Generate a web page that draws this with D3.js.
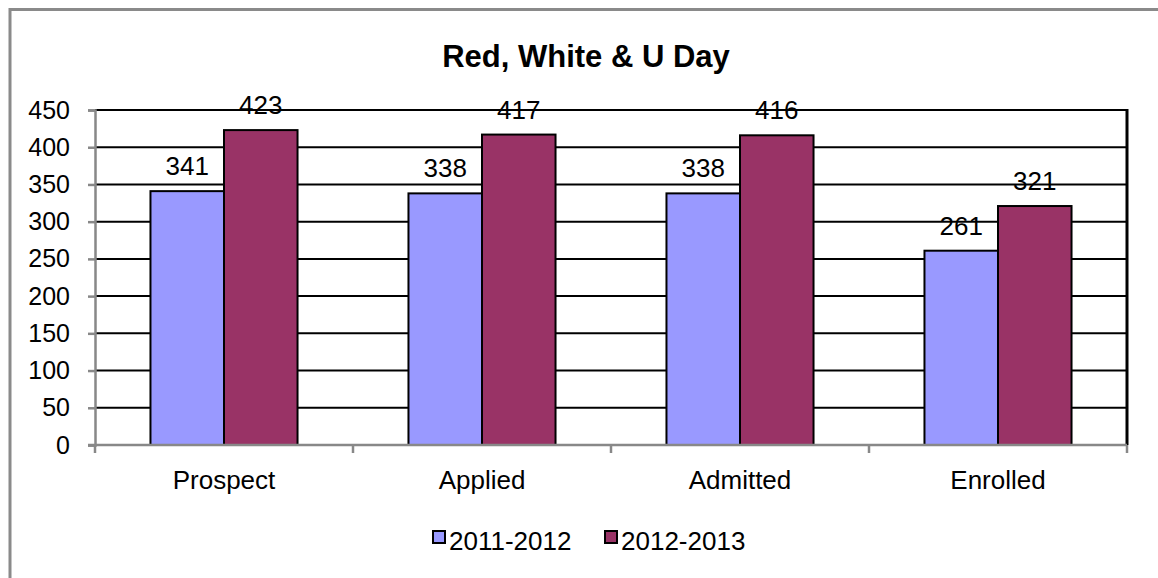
<!DOCTYPE html>
<html><head><meta charset="utf-8">
<script src="https://cdn.jsdelivr.net/npm/d3@7"></script>
<style>body{margin:0;background:#fff}svg{display:block;font-family:"Liberation Sans",Arial,sans-serif}</style>
</head><body>
<svg id="c" width="1158" height="578"></svg>
<script>
const categories = ["Prospect", "Applied", "Admitted", "Enrolled"];
const seriesNames = ["2011-2012", "2012-2013"];
const values2011 = [341, 338, 338, 261];
const values2012 = [423, 417, 416, 321];
const yTicks = [0, 50, 100, 150, 200, 250, 300, 350, 400, 450];
const colors = ["#9999FF", "#993366"];
const title = "Red, White & U Day";

const svg = d3.select("#c");
const m = {left: 95, right: 1127, top: 110, bottom: 445};

// outer frame
svg.append("rect").attr("x", 10).attr("y", 9.5).attr("width", 1200).attr("height", 700)
  .attr("fill", "#fff").attr("stroke", "#8a8a8a").attr("stroke-width", 3);

svg.append("text").attr("x", 586).attr("y", 67).attr("text-anchor", "middle")
  .attr("font-weight", "bold").attr("font-size", 31).text(title);

const x0 = d3.scaleBand().domain(categories).range([m.left, m.right]).paddingInner(0.43).paddingOuter(0.215);
const x1 = d3.scaleBand().domain(seriesNames).range([0, x0.bandwidth()]);
const y = d3.scaleLinear().domain([0, 450]).range([m.bottom, m.top]);

// gridlines
svg.append("g").selectAll("line").data(yTicks.filter(d => d > 0)).join("line")
  .attr("x1", m.left).attr("x2", m.right).attr("y1", d => y(d)).attr("y2", d => y(d))
  .attr("stroke", "#000").attr("stroke-width", 2);
// right border
svg.append("line").attr("x1", m.right).attr("x2", m.right).attr("y1", m.top - 1).attr("y2", m.bottom)
  .attr("stroke", "#000").attr("stroke-width", 3);

const series = [values2011, values2012];
const data = categories.map((c, i) => seriesNames.map((s, j) => ({c, s, v: series[j][i], j})));

const g = svg.append("g");
data.forEach(grp => {
  g.selectAll(null).data(grp).join("rect")
    .attr("x", d => x0(d.c) + x1(d.s)).attr("y", d => y(d.v))
    .attr("width", x1.bandwidth()).attr("height", d => y(0) - y(d.v))
    .attr("fill", d => colors[d.j]).attr("stroke", "#000").attr("stroke-width", 2);
  g.selectAll(null).data(grp).join("text")
    .attr("x", d => x0(d.c) + x1(d.s) + x1.bandwidth() / 2).attr("y", d => y(d.v) - 16)
    .attr("text-anchor", "middle").attr("font-size", 26).text(d => d.v);
});

// y axis
const yAxis = d3.axisLeft(y).tickValues(yTicks).tickSize(7).tickPadding(18);
const ya = svg.append("g").attr("transform", `translate(${m.left},0)`).call(yAxis);
ya.select(".domain").attr("stroke", "#888").attr("stroke-width", 2.5);
ya.selectAll(".tick line").attr("stroke", "#888").attr("stroke-width", 2.5);
ya.selectAll("text").attr("font-size", 25).attr("fill", "#000").attr("font-family", "Liberation Sans, Arial, sans-serif");

// x axis
svg.append("line").attr("x1", m.left - 7).attr("x2", m.right).attr("y1", y(0)).attr("y2", y(0))
  .attr("stroke", "#888").attr("stroke-width", 2.5);
const bounds = [m.left, ...categories.slice(1).map(c => x0(c) - x0.step() * 0.43 / 2), m.right];
svg.append("g").selectAll("line").data(bounds).join("line")
  .attr("x1", d => d).attr("x2", d => d).attr("y1", y(0)).attr("y2", y(0) + 8)
  .attr("stroke", "#888").attr("stroke-width", 2.5);
svg.append("g").selectAll("text").data(categories).join("text")
  .attr("x", d => x0(d) + x0.bandwidth() / 2).attr("y", 489)
  .attr("text-anchor", "middle").attr("font-size", 26).text(d => d);

// legend
const leg = svg.append("g");
const legX = [433, 605];
seriesNames.forEach((s, i) => {
  leg.append("rect").attr("x", legX[i]).attr("y", 531).attr("width", 12).attr("height", 12)
    .attr("fill", colors[i]).attr("stroke", "#000").attr("stroke-width", 2);
  leg.append("text").attr("x", legX[i] + 16).attr("y", 550).attr("font-size", 26).text(s);
});
</script>
</body></html>
